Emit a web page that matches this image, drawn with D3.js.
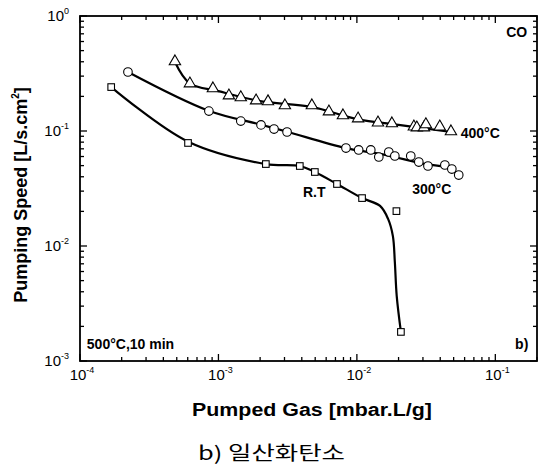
<!DOCTYPE html>
<html>
<head>
<meta charset="utf-8">
<script src="https://cdnjs.cloudflare.com/ajax/libs/d3/7.8.5/d3.min.js"></script>
<style>
  body { margin: 0; background: #fff; }
  svg { display: block; font-family: "Liberation Sans", Arial, sans-serif; }
</style>
</head>
<body>
<svg id="chart" width="544" height="467"></svg>
<script>
// measured points, [pumped gas, pumping speed]
const rtPoints = [
    [1.68e-4, 0.241], [6.03e-4, 0.0787], [2.20e-3, 0.0516], [3.87e-3, 0.0496],
    [4.97e-3, 0.044], [7.18e-3, 0.0346], [1.09e-2, 0.0261], [1.93e-2, 0.0201],
    [2.08e-2, 0.00179]
];
const c300Points = [
    [2.22e-4, 0.326], [8.53e-4, 0.149], [1.45e-3, 0.122], [2.03e-3, 0.113],
    [2.52e-3, 0.104], [3.13e-3, 0.098], [8.34e-3, 0.0711], [1.03e-2, 0.0684],
    [1.26e-2, 0.0684], [1.44e-2, 0.0594], [1.70e-2, 0.0657], [1.88e-2, 0.0606],
    [2.45e-2, 0.0606], [2.80e-2, 0.0537], [3.26e-2, 0.0496], [4.32e-2, 0.0506],
    [4.85e-2, 0.0467], [5.44e-2, 0.0414]
];
const c400Points = [
    [4.85e-4, 0.398], [6.22e-4, 0.256], [9.12e-4, 0.232], [1.19e-3, 0.201],
    [1.45e-3, 0.194], [1.87e-3, 0.182], [2.28e-3, 0.179], [3.02e-3, 0.165],
    [4.73e-3, 0.165], [6.28e-3, 0.146], [7.93e-3, 0.135], [1.02e-2, 0.127],
    [1.42e-2, 0.117], [1.79e-2, 0.115], [2.58e-2, 0.108], [2.71e-2, 0.106],
    [3.05e-2, 0.106], [3.15e-2, 0.113], [3.97e-2, 0.108], [4.78e-2, 0.098]
];

// fitted curves drawn through the points
const rtFit = [
    [1.68e-4, 0.241], [6.0e-4, 0.081], [2.2e-3, 0.0516], [3.87e-3, 0.0496],
    [4.97e-3, 0.044], [7.18e-3, 0.0346], [1.09e-2, 0.0261], [1.47e-2, 0.0223],
    [1.68e-2, 0.0172], [1.82e-2, 0.0122], [1.88e-2, 0.00726], [1.94e-2, 0.00367],
    [2.08e-2, 0.00179]
];
const c300Fit = [
    [2.22e-4, 0.326], [8.5e-4, 0.15], [2.0e-3, 0.114], [3.1e-3, 0.099],
    [8.3e-3, 0.071], [1.5e-2, 0.063], [3.0e-2, 0.052], [4.8e-2, 0.047],
    [5.44e-2, 0.0414]
];
const c400Fit = [
    [4.85e-4, 0.398], [6.2e-4, 0.26], [1.0e-3, 0.222], [2.0e-3, 0.182],
    [4.7e-3, 0.162], [1.0e-2, 0.127], [2.0e-2, 0.113], [4.8e-2, 0.098]
];

const xDomain = [1e-4, 0.2];
const yDomain = [1e-3, 1];
const xMajor = [-4, -3, -2, -1];
const yMajor = [-3, -2, -1, 0];

const labels = [
    {text: 'CO', x: 0.1197, y: 0.657},
    {text: '400°C', x: 0.0562, y: 0.0869},
    {text: '300°C', x: 0.0251, y: 0.0283},
    {text: 'R.T', x: 4.08e-3, y: 0.0267},
    {text: '500°C,10 min', x: 1.12e-4, y: 1.27e-3},
    {text: 'b)', x: 0.139, y: 1.27e-3}
];

const margin = {left: 80, top: 16, right: 7, bottom: 106};
const svg = d3.select('#chart');
const W = +svg.attr('width'), H = +svg.attr('height');
const x0 = margin.left, x1 = W - margin.right;
const y0 = margin.top, y1 = H - margin.bottom;

const xScale = d3.scaleLog().domain(xDomain).range([x0, x1]);
const yScale = d3.scaleLog().domain(yDomain).range([y1, y0]);

function minorTicks(lo, hi) {
    const out = [];
    for (let e = Math.floor(Math.log10(lo)); e <= Math.ceil(Math.log10(hi)); e++) {
        for (let m = 1; m < 10; m++) {
            const v = m * Math.pow(10, e);
            if (v >= lo * 0.999 && v <= hi * 1.001) out.push({v: v, major: m === 1});
        }
    }
    return out;
}

const axes = svg.append('g').attr('stroke', '#000').attr('stroke-width', 1.3);
const xt = minorTicks(xDomain[0], xDomain[1]);
const yt = minorTicks(yDomain[0], yDomain[1]);

xt.forEach(t => {
    const px = xScale(t.v), len = t.major ? 7 : 4;
    axes.append('line').attr('x1', px).attr('x2', px).attr('y1', y1).attr('y2', y1 - len);
    axes.append('line').attr('x1', px).attr('x2', px).attr('y1', y0).attr('y2', y0 + len);
});
yt.forEach(t => {
    const py = yScale(t.v), len = t.major ? 7 : 4;
    axes.append('line').attr('x1', x0).attr('x2', x0 + len).attr('y1', py).attr('y2', py);
    axes.append('line').attr('x1', x1).attr('x2', x1 - len).attr('y1', py).attr('y2', py);
});

svg.append('rect')
    .attr('x', x0).attr('y', y0)
    .attr('width', x1 - x0).attr('height', y1 - y0)
    .attr('fill', 'none').attr('stroke', '#000').attr('stroke-width', 1.8);

// tick labels
xMajor.forEach(e => {
    const t = svg.append('text')
        .attr('x', xScale(Math.pow(10, e)) + 2)
        .attr('y', y1 + 19)
        .attr('text-anchor', 'middle')
        .attr('font-size', 15);
    t.append('tspan').text('10');
    t.append('tspan').attr('dy', -7).attr('font-size', 9).text(e === 0 ? '0' : '-' + (-e));
});
yMajor.forEach(e => {
    const t = svg.append('text')
        .attr('x', x0 - 11)
        .attr('y', yScale(Math.pow(10, e)) + 5)
        .attr('text-anchor', 'end')
        .attr('font-size', 15);
    t.append('tspan').text('10');
    t.append('tspan').attr('dy', -7).attr('font-size', 9).text(e === 0 ? '0' : '-' + (-e));
});

svg.append('text')
    .attr('x', 192)
    .attr('y', 416)
    .attr('font-size', 18)
    .attr('font-weight', 'bold')
    .attr('textLength', 240)
    .attr('lengthAdjust', 'spacingAndGlyphs')
    .text('Pumped Gas [mbar.L/g]');

const yl = svg.append('text')
    .attr('transform', 'translate(27, 195) rotate(-90)')
    .attr('text-anchor', 'middle')
    .attr('font-size', 18)
    .attr('font-weight', 'bold');
yl.append('tspan').text('Pumping Speed [L/s.cm');
yl.append('tspan').attr('dy', -8).attr('font-size', 10).text('2');
yl.append('tspan').attr('dy', 8).text(']');

svg.append('text')
    .attr('x', 198)
    .attr('y', 460)
    .attr('font-size', 19)
    .attr('font-family', '"Noto Sans CJK KR", "Noto Sans", sans-serif')
    .attr('textLength', 147)
    .attr('lengthAdjust', 'spacingAndGlyphs')
    .text('b) 일산화탄소');

// curves
const line = d3.line()
    .x(d => xScale(d[0]))
    .y(d => yScale(d[1]))
    .curve(d3.curveCatmullRom.alpha(0.5));

[rtFit, c300Fit, c400Fit].forEach(fit => {
    svg.append('path')
        .attr('d', line(fit))
        .attr('fill', 'none')
        .attr('stroke', '#000')
        .attr('stroke-width', 2.2);
});

const markerStyle = sel => sel.attr('fill', '#fff').attr('stroke', '#000').attr('stroke-width', 1.1);

markerStyle(svg.append('g').selectAll('rect').data(rtPoints).join('rect')
    .attr('x', d => xScale(d[0]) - 3.3)
    .attr('y', d => yScale(d[1]) - 3.3)
    .attr('width', 6.6).attr('height', 6.6));

markerStyle(svg.append('g').selectAll('circle').data(c300Points).join('circle')
    .attr('cx', d => xScale(d[0]))
    .attr('cy', d => yScale(d[1]))
    .attr('r', 4.3));

const tri = d3.symbol().type(d3.symbolTriangle).size(56);
markerStyle(svg.append('g').selectAll('path').data(c400Points).join('path')
    .attr('transform', d => `translate(${xScale(d[0])}, ${yScale(d[1]) - 0.5})`)
    .attr('d', tri));

// annotations
labels.forEach(l => {
    svg.append('text')
        .attr('x', xScale(l.x))
        .attr('y', yScale(l.y))
        .attr('font-size', 14)
        .attr('font-weight', 'bold')
        .text(l.text);
});
</script>
</body>
</html>
